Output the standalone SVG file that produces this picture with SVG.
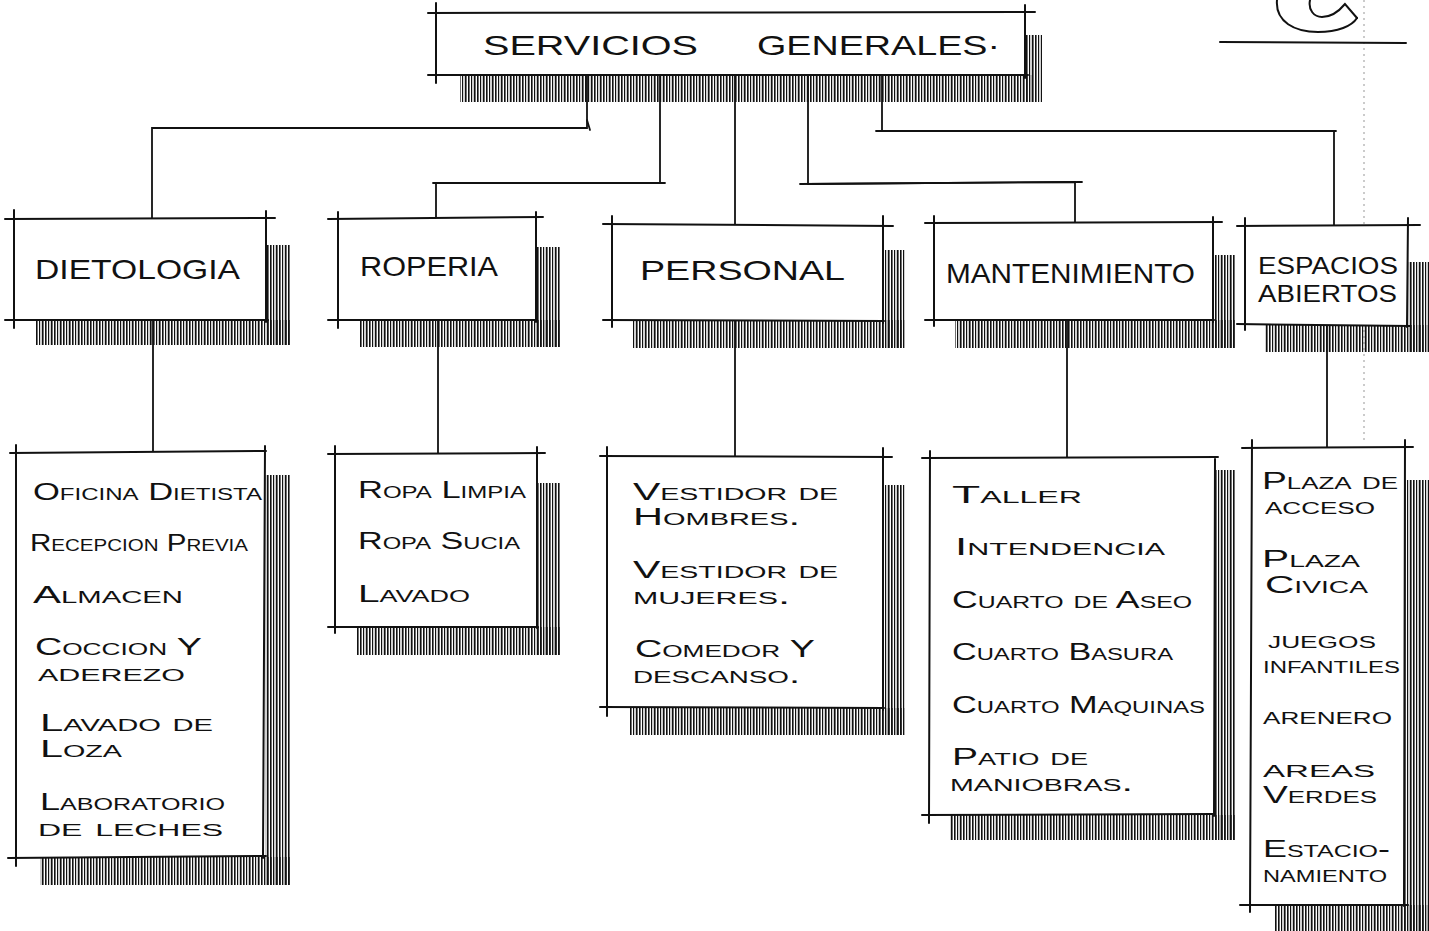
<svg xmlns="http://www.w3.org/2000/svg" width="1429" height="931" viewBox="0 0 1429 931">
<defs>
<pattern id="hatch" patternUnits="userSpaceOnUse" width="9" height="40">
<rect x="0" y="0" width="1.6" height="40" fill="#111"/>
<rect x="3" y="0" width="1.2" height="40" fill="#111"/>
<rect x="5.8" y="0" width="1.8" height="40" fill="#111"/>
</pattern>
</defs>
<style>
.ln{stroke:#111;stroke-width:2;fill:none;stroke-linecap:round}
.cn{stroke:#111;stroke-width:1.8;fill:none;stroke-linecap:round}
.sh{fill:url(#hatch)}
.bg{fill:#fff}
.t1{font-family:"Liberation Sans",Arial,sans-serif;font-size:28px;fill:#111}
.t3{font-family:"Liberation Sans",Arial,sans-serif;font-size:23px;fill:#111}
.t2{font-family:"Liberation Sans",Arial,sans-serif;font-size:23px;fill:#111;font-variant:small-caps}
</style>
<rect width="1429" height="931" fill="#fff"/>
<line x1="1364" y1="0" x2="1364" y2="440" stroke="#bbb" stroke-width="1.5" stroke-dasharray="2 4"/>
<g id="symbol">
<path class="ln" d="M1277,0 C1275,22 1295,32 1318,32 C1338,32 1352,26 1357,18"/>
<path class="ln" d="M1310,0 C1308,10 1314,17 1322,17 C1332,17 1340,10 1345,4 L1357,18"/>
<line class="ln" x1="1220" y1="42" x2="1406" y2="43"/>
</g>
<g id="connectors">
<polyline class="cn" points="587,75 587,128 152,128 152,218"/>
<line class="cn" x1="587" y1="120" x2="590" y2="130"/>
<polyline class="cn" points="660,75 660,183 436,183 436,218"/>
<line class="cn" x1="433" y1="183" x2="665" y2="183"/>
<line class="cn" x1="735" y1="75" x2="735" y2="225"/>
<polyline class="cn" points="808,75 808,184 1075,182 1075,222"/>
<line class="cn" x1="800" y1="184" x2="1082" y2="182"/>
<polyline class="cn" points="882,75 882,131 1334,131 1334,225"/>
<line class="cn" x1="876" y1="131" x2="1336" y2="131"/>
<line class="cn" x1="153" y1="320" x2="153" y2="452"/>
<line class="cn" x1="438" y1="320" x2="438" y2="453"/>
<line class="cn" x1="735" y1="320" x2="735" y2="456"/>
<line class="cn" x1="1067" y1="320" x2="1067" y2="457"/>
<line class="cn" x1="1327" y1="325" x2="1327" y2="447"/>
</g>
<g id="servicios-generales">
<rect class="sh" x="460" y="75" width="572" height="27"/>
<rect class="sh" x="1025" y="35" width="17" height="67"/>
<rect class="bg" x="436" y="13" width="589" height="62"/>
<line class="ln" x1="428" y1="13" x2="1035" y2="12"/>
<line class="ln" x1="428" y1="75" x2="1028" y2="75"/>
<line class="ln" x1="436" y1="3" x2="436" y2="83"/>
<line class="ln" x1="1025" y1="5" x2="1025" y2="78"/>
<text class="t1" y="55"><tspan x="483" textLength="215" lengthAdjust="spacingAndGlyphs">SERVICIOS</tspan> <tspan x="757" textLength="243" lengthAdjust="spacingAndGlyphs">GENERALES·</tspan></text>
</g>
<g id="dietologia">
<rect class="sh" x="35" y="320" width="255" height="25"/>
<rect class="sh" x="267" y="245" width="23" height="100"/>
<rect class="bg" x="14" y="218" width="253" height="102"/>
<line class="ln" x1="5" y1="219" x2="275" y2="218"/>
<line class="ln" x1="5" y1="320" x2="268" y2="320"/>
<line class="ln" x1="14" y1="210" x2="14" y2="328"/>
<line class="ln" x1="266" y1="211" x2="266" y2="322"/>
<text class="t1" x="35" y="279" textLength="205" lengthAdjust="spacingAndGlyphs">DIETOLOGIA</text>
</g>
<g id="roperia">
<rect class="sh" x="360" y="320" width="200" height="27"/>
<rect class="sh" x="536" y="247" width="24" height="100"/>
<rect class="bg" x="338" y="218" width="198" height="102"/>
<line class="ln" x1="328" y1="219" x2="543" y2="217"/>
<line class="ln" x1="328" y1="320" x2="537" y2="320"/>
<line class="ln" x1="338" y1="212" x2="338" y2="328"/>
<line class="ln" x1="536" y1="212" x2="536" y2="322"/>
<text class="t1" x="360" y="276" textLength="138" lengthAdjust="spacingAndGlyphs">ROPERIA</text>
</g>
<g id="personal">
<rect class="sh" x="633" y="320" width="272" height="28"/>
<rect class="sh" x="883" y="250" width="22" height="98"/>
<rect class="bg" x="612" y="225" width="271" height="95"/>
<line class="ln" x1="603" y1="224" x2="893" y2="226"/>
<line class="ln" x1="603" y1="320" x2="884" y2="321"/>
<line class="ln" x1="612" y1="216" x2="612" y2="327"/>
<line class="ln" x1="883" y1="216" x2="883" y2="323"/>
<text class="t1" x="640" y="280" textLength="205" lengthAdjust="spacingAndGlyphs">PERSONAL</text>
</g>
<g id="mantenimiento">
<rect class="sh" x="955" y="320" width="280" height="28"/>
<rect class="sh" x="1213" y="255" width="22" height="93"/>
<rect class="bg" x="934" y="222" width="279" height="98"/>
<line class="ln" x1="925" y1="223" x2="1222" y2="222"/>
<line class="ln" x1="925" y1="320" x2="1214" y2="320"/>
<line class="ln" x1="934" y1="216" x2="934" y2="326"/>
<line class="ln" x1="1213" y1="217" x2="1213" y2="322"/>
<text class="t1" x="946" y="283" textLength="249" lengthAdjust="spacingAndGlyphs">MANTENIMIENTO</text>
</g>
<g id="espacios-abiertos">
<rect class="sh" x="1265" y="325" width="164" height="27"/>
<rect class="sh" x="1408" y="262" width="21" height="90"/>
<rect class="bg" x="1245" y="226" width="163" height="99"/>
<line class="ln" x1="1237" y1="226" x2="1420" y2="225"/>
<line class="ln" x1="1237" y1="324" x2="1410" y2="326"/>
<line class="ln" x1="1245" y1="218" x2="1245" y2="330"/>
<line class="ln" x1="1408" y1="218" x2="1407" y2="327"/>
<text class="t3" x="1258" y="274" textLength="140" lengthAdjust="spacingAndGlyphs">ESPACIOS</text>
<text class="t3" x="1258" y="302" textLength="139" lengthAdjust="spacingAndGlyphs">ABIERTOS</text>
</g>
<g id="dietologia-list">
<rect class="sh" x="40" y="857" width="250" height="28"/>
<rect class="sh" x="265" y="475" width="25" height="410"/>
<rect class="bg" x="16" y="452" width="249" height="405"/>
<line class="ln" x1="10" y1="453" x2="266" y2="451"/>
<line class="ln" x1="8" y1="858" x2="266" y2="856"/>
<line class="ln" x1="16" y1="445" x2="16" y2="866"/>
<line class="ln" x1="265" y1="446" x2="263" y2="858"/>
<text class="t2" x="33" y="500" textLength="229" lengthAdjust="spacingAndGlyphs">Oficina Dietista</text>
<text class="t2" x="30" y="551" textLength="218" lengthAdjust="spacingAndGlyphs">Recepcion Previa</text>
<text class="t2" x="33" y="603" textLength="150" lengthAdjust="spacingAndGlyphs">Almacen</text>
<text class="t2" x="35" y="655" textLength="167" lengthAdjust="spacingAndGlyphs">Coccion Y</text>
<text class="t2" x="38" y="681" textLength="147" lengthAdjust="spacingAndGlyphs">aderezo</text>
<text class="t2" x="40" y="731" textLength="173" lengthAdjust="spacingAndGlyphs">Lavado de</text>
<text class="t2" x="40" y="757" textLength="82" lengthAdjust="spacingAndGlyphs">Loza</text>
<text class="t2" x="40" y="810" textLength="185" lengthAdjust="spacingAndGlyphs">Laboratorio</text>
<text class="t2" x="38" y="836" textLength="185" lengthAdjust="spacingAndGlyphs">de leches</text>
</g>
<g id="roperia-list">
<rect class="sh" x="357" y="627" width="203" height="28"/>
<rect class="sh" x="537" y="483" width="23" height="172"/>
<rect class="bg" x="335" y="453" width="202" height="174"/>
<line class="ln" x1="328" y1="454" x2="545" y2="453"/>
<line class="ln" x1="328" y1="627" x2="538" y2="627"/>
<line class="ln" x1="335" y1="446" x2="335" y2="633"/>
<line class="ln" x1="537" y1="447" x2="537" y2="628"/>
<text class="t2" x="358" y="498" textLength="168" lengthAdjust="spacingAndGlyphs">Ropa Limpia</text>
<text class="t2" x="358" y="549" textLength="162" lengthAdjust="spacingAndGlyphs">Ropa Sucia</text>
<text class="t2" x="358" y="602" textLength="112" lengthAdjust="spacingAndGlyphs">Lavado</text>
</g>
<g id="personal-list">
<rect class="sh" x="630" y="708" width="275" height="27"/>
<rect class="sh" x="883" y="485" width="22" height="250"/>
<rect class="bg" x="607" y="456" width="276" height="252"/>
<line class="ln" x1="600" y1="456" x2="892" y2="457"/>
<line class="ln" x1="600" y1="707" x2="884" y2="708"/>
<line class="ln" x1="607" y1="447" x2="607" y2="716"/>
<line class="ln" x1="883" y1="448" x2="883" y2="710"/>
<text class="t2" x="633" y="500" textLength="205" lengthAdjust="spacingAndGlyphs">Vestidor de</text>
<text class="t2" x="633" y="525" textLength="167" lengthAdjust="spacingAndGlyphs">Hombres.</text>
<text class="t2" x="633" y="578" textLength="205" lengthAdjust="spacingAndGlyphs">Vestidor de</text>
<text class="t2" x="633" y="604" textLength="157" lengthAdjust="spacingAndGlyphs">mujeres.</text>
<text class="t2" x="635" y="657" textLength="180" lengthAdjust="spacingAndGlyphs">Comedor Y</text>
<text class="t2" x="633" y="683" textLength="167" lengthAdjust="spacingAndGlyphs">descanso.</text>
</g>
<g id="mantenimiento-list">
<rect class="sh" x="950" y="815" width="285" height="25"/>
<rect class="sh" x="1215" y="470" width="20" height="370"/>
<rect class="bg" x="930" y="457" width="285" height="358"/>
<line class="ln" x1="922" y1="458" x2="1218" y2="457"/>
<line class="ln" x1="922" y1="815" x2="1215" y2="814"/>
<line class="ln" x1="930" y1="451" x2="929" y2="823"/>
<line class="ln" x1="1215" y1="459" x2="1214" y2="816"/>
<text class="t2" x="952" y="503" textLength="130" lengthAdjust="spacingAndGlyphs">Taller</text>
<text class="t2" x="955" y="555" textLength="210" lengthAdjust="spacingAndGlyphs">Intendencia</text>
<text class="t2" x="952" y="608" textLength="240" lengthAdjust="spacingAndGlyphs">Cuarto de Aseo</text>
<text class="t2" x="952" y="660" textLength="221" lengthAdjust="spacingAndGlyphs">Cuarto Basura</text>
<text class="t2" x="952" y="713" textLength="253" lengthAdjust="spacingAndGlyphs">Cuarto Maquinas</text>
<text class="t2" x="952" y="765" textLength="136" lengthAdjust="spacingAndGlyphs">Patio de</text>
<text class="t2" x="950" y="791" textLength="183" lengthAdjust="spacingAndGlyphs">maniobras.</text>
</g>
<g id="espacios-list">
<rect class="sh" x="1275" y="905" width="154" height="26"/>
<rect class="sh" x="1405" y="480" width="24" height="451"/>
<rect class="bg" x="1252" y="447" width="153" height="458"/>
<line class="ln" x1="1242" y1="448" x2="1413" y2="447"/>
<line class="ln" x1="1240" y1="905" x2="1408" y2="905"/>
<line class="ln" x1="1252" y1="440" x2="1250" y2="912"/>
<line class="ln" x1="1405" y1="440" x2="1404" y2="906"/>
<text class="t2" x="1262" y="489" textLength="136" lengthAdjust="spacingAndGlyphs">Plaza de</text>
<text class="t2" x="1265" y="514" textLength="110" lengthAdjust="spacingAndGlyphs">acceso</text>
<text class="t2" x="1262" y="567" textLength="98" lengthAdjust="spacingAndGlyphs">Plaza</text>
<text class="t2" x="1265" y="593" textLength="103" lengthAdjust="spacingAndGlyphs">Civica</text>
<text class="t2" x="1268" y="648" textLength="108" lengthAdjust="spacingAndGlyphs">juegos</text>
<text class="t2" x="1263" y="673" textLength="137" lengthAdjust="spacingAndGlyphs">infantiles</text>
<text class="t2" x="1263" y="724" textLength="129" lengthAdjust="spacingAndGlyphs">arenero</text>
<text class="t2" x="1263" y="777" textLength="112" lengthAdjust="spacingAndGlyphs">areas</text>
<text class="t2" x="1263" y="803" textLength="114" lengthAdjust="spacingAndGlyphs">Verdes</text>
<text class="t2" x="1263" y="857" textLength="127" lengthAdjust="spacingAndGlyphs">Estacio-</text>
<text class="t2" x="1263" y="882" textLength="124" lengthAdjust="spacingAndGlyphs">namiento</text>
</g>
</svg>
